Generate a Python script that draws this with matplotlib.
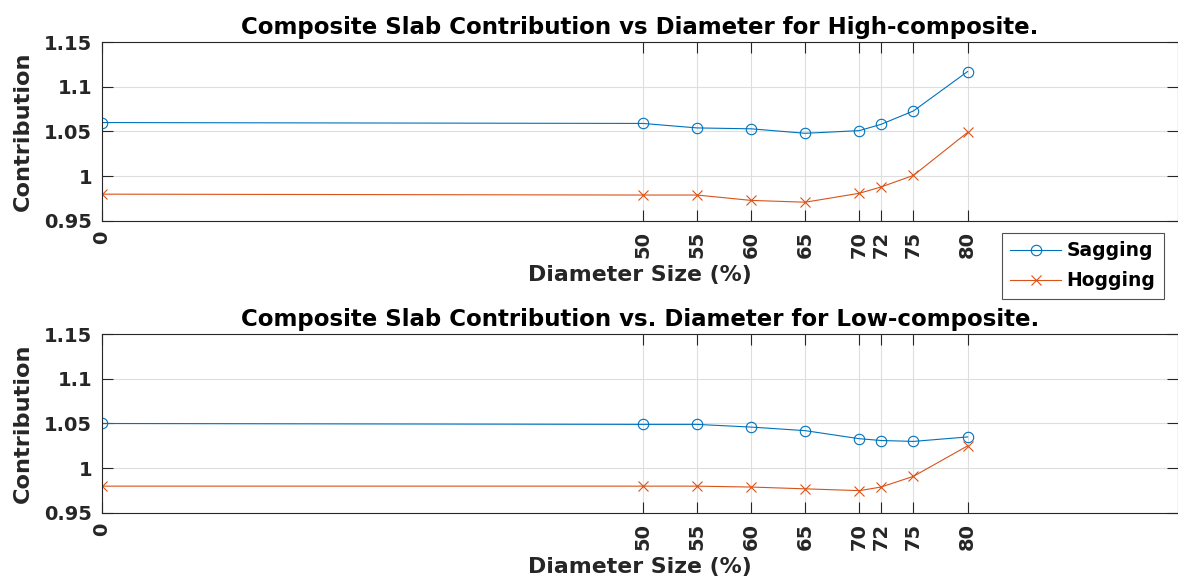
import numpy as np
import matplotlib
matplotlib.use('Agg')
import matplotlib.pyplot as plt

plt.rcParams['font.family'] = ['DejaVu Sans']
plt.rcParams['font.weight'] = 'bold'

# Data
diam = [0, 50, 55, 60, 65, 70, 72, 75, 80]
tick_labels = ['0', '50', '55', '60', '65', '70', '72', '75', '80']

high_sag = [1.060, 1.059, 1.054, 1.053, 1.048, 1.051, 1.058, 1.073, 1.117]
high_hog = [0.980, 0.979, 0.979, 0.973, 0.971, 0.981, 0.988, 1.001, 1.049]

low_sag = [1.050, 1.049, 1.049, 1.046, 1.042, 1.033, 1.031, 1.030, 1.035]
low_hog = [0.980, 0.980, 0.980, 0.979, 0.977, 0.975, 0.979, 0.991, 1.025]

titles = ['Composite Slab Contribution vs Diameter for High-composite.',
          'Composite Slab Contribution vs. Diameter for Low-composite.']

blue = '#0072BD'
orange = '#D95319'
dark = '#262626'

W, H = 1178, 586
fig = plt.figure(figsize=(W / 100, H / 100), dpi=100)

# axes boxes in pixels: left, top, right, bottom
boxes = [(102, 42, 1177.5, 221), (102, 334, 1177.5, 513)]

handles = None
for (l, t, r, b), sag, hog, title in zip(boxes, [high_sag, low_sag],
                                         [high_hog, low_hog], titles):
    ax = fig.add_axes([l / W, 1 - b / H, (r - l) / W, (b - t) / H])
    h1, = ax.plot(diam, sag, '-o', color=blue, lw=0.8, ms=7.5, mfc='none',
                  mew=0.8, label='Sagging')
    h2, = ax.plot(diam, hog, '-x', color=orange, lw=0.8, ms=6.5, mew=0.8,
                  label='Hogging')
    handles = [h1, h2]
    ax.set_xlim(0, 99.4)
    ax.set_ylim(0.95, 1.15)
    ax.set_xticks(diam)
    ax.set_xticklabels(tick_labels, rotation=90)
    ax.set_yticks([0.95, 1.0, 1.05, 1.1, 1.15])
    ax.set_yticklabels(['0.95', '1', '1.05', '1.1', '1.15'])
    ax.tick_params(direction='in', length=8, width=0.8, colors=dark,
                   labelsize=14, top=True, right=True, pad=7)
    for lab in ax.get_xticklabels() + ax.get_yticklabels():
        lab.set_fontweight('bold')
    ax.grid(True, color='#dedede', lw=0.8)
    ax.set_axisbelow(True)
    for s in ax.spines.values():
        s.set_color(dark)
        s.set_linewidth(0.8)
    ax.set_title(title, fontsize=16.5, fontweight='bold', color='black', pad=6)
    ax.set_xlabel('Diameter Size (%)', fontsize=15.8, fontweight='bold',
                  color=dark, labelpad=5)
    ax.set_ylabel('Contribution', fontsize=16.2, fontweight='bold',
                  color=dark, labelpad=8)

leg = fig.legend(handles, ['Sagging', 'Hogging'], loc='upper left',
                 bbox_to_anchor=(1002 / W, 1 - 233 / H), fontsize=13.5,
                 frameon=True, fancybox=False, handlelength=2.7,
                 borderpad=0.45, labelspacing=0.58, handletextpad=0.3,
                 borderaxespad=0)
leg.get_frame().set_edgecolor(dark)
leg.get_frame().set_linewidth(0.8)
for txt in leg.get_texts():
    txt.set_fontweight('bold')

fig.savefig('out.png', dpi=100)
